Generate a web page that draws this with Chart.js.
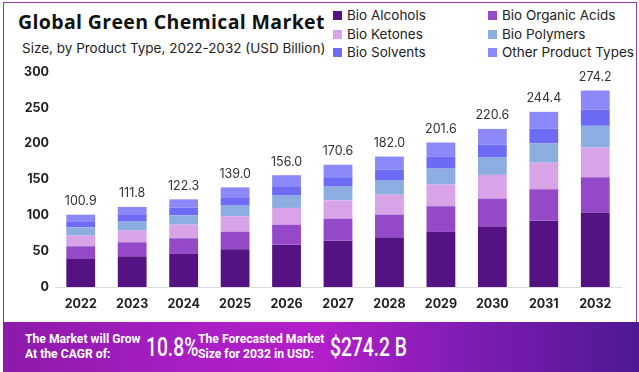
<!DOCTYPE html>
<html>
<head>
<meta charset="utf-8">
<script src="https://cdn.jsdelivr.net/npm/chart.js@4.4.1/dist/chart.umd.min.js"></script>
<style>
  body { margin: 0; width: 639px; height: 372px; overflow: hidden; background: #fff; font-family: Inter, Roboto, sans-serif; position: relative; }
  #frame { position: absolute; left: 3px; top: 2px; width: 632px; height: 319px; border: 1px solid #8b3c9c; border-bottom: none; }
  #title { position: absolute; left: 18px; top: 10px; font-family: "Open Sans", sans-serif; font-size: 19.5px; line-height: 24px; font-weight: 700; letter-spacing: 0.35px; color: #111; white-space: nowrap; }
  #subtitle { position: absolute; left: 22px; top: 40px; font-size: 13.5px; color: #222; white-space: nowrap; }
  #legend { position: absolute; left: 333px; top: 6px; }
  .lg { position: absolute; white-space: nowrap; font-size: 13.5px; color: #222; line-height: 18px; }
  .lg span { display: inline-block; width: 9px; height: 9px; margin-right: 5px; vertical-align: 0px; }
  #box { position: absolute; left: 0; top: 55px; width: 639px; height: 266px; }
  #banner { position: absolute; left: 3px; top: 322px; width: 636px; height: 50px;
    background: linear-gradient(90deg, #8c1aa9 0%, #a91ec4 30%, #b21fca 50%, #7a1cb0 75%, #4e1895 100%); color: #fff; }
  .bt { position: absolute; font-family: Roboto, sans-serif; font-size: 13.5px; font-weight: 700; line-height: 15px; white-space: nowrap; transform: scaleX(0.9); transform-origin: left center; }
  .bn { position: absolute; font-family: Roboto, sans-serif; font-size: 26px; font-weight: 500; line-height: 30px; white-space: nowrap; transform: scaleX(0.74); transform-origin: left center; }
</style>
</head>
<body>
<div id="frame"></div>
<div id="title">Global Green Chemical Market</div>
<div id="subtitle">Size, by Product Type, 2022-2032 (USD Billion)</div>
<div id="legend"></div>
<div id="box"><canvas id="chart"></canvas></div>
<div id="banner">
  <div class="bt" style="left:22px; top:9px;">The Market will Grow<br>At the CAGR of:</div>
  <div class="bn" style="left:143px; top:10px;">10.8%</div>
  <div class="bt" style="left:195px; top:9px;">The Forecasted Market<br>Size for 2032 in USD:</div>
  <div class="bn" style="left:327px; top:10px;">$274.2 B</div>
</div>
<script>
const years = ['2022', '2023', '2024', '2025', '2026', '2027', '2028', '2029', '2030', '2031', '2032'];
const totals = [100.9, 111.8, 122.3, 139.0, 156.0, 170.6, 182.0, 201.6, 220.6, 244.4, 274.2];

const bioAlcohols = [39.1, 42.8, 46.1, 52.6, 59.1, 64.7, 68.9, 76.8, 84.3, 92.6, 103.8];
const bioOrganicAcids = [17.7, 19.6, 21.9, 24.6, 27.9, 30.7, 32.1, 35.9, 39.0, 43.8, 49.4];
const bioKetones = [14.9, 16.3, 19.0, 21.5, 23.3, 25.6, 27.9, 30.2, 33.1, 37.2, 41.4];
const bioPolymers = [11.6, 12.5, 13.1, 14.8, 17.2, 19.1, 19.6, 22.3, 24.2, 27.1, 30.3];
const bioSolvents = [7.5, 10.3, 10.7, 11.7, 13.1, 13.1, 15.3, 16.4, 18.1, 20.4, 22.8];
const otherTypes = [10.1, 10.3, 11.5, 13.8, 15.4, 17.4, 18.2, 20.0, 21.9, 23.3, 26.5];

const yTicks = [0, 50, 100, 150, 200, 250, 300];

const series = [
    { label: 'Bio Alcohols', data: bioAlcohols, color: '#541283' },
    { label: 'Bio Organic Acids', data: bioOrganicAcids, color: '#9449c9' },
    { label: 'Bio Ketones', data: bioKetones, color: '#d9a4e7' },
    { label: 'Bio Polymers', data: bioPolymers, color: '#8badE0' },
    { label: 'Bio Solvents', data: bioSolvents, color: '#6d6bf4' },
    { label: 'Other Product Types', data: otherTypes, color: '#8b89f7' }
];

// legend, two columns
const legendEl = document.getElementById('legend');
series.forEach((s, i) => {
    const div = document.createElement('div');
    div.className = 'lg';
    div.style.left = (i % 2 === 0 ? 0 : 155) + 'px';
    div.style.top = (Math.floor(i / 2) * 18.5) + 'px';
    div.innerHTML = `<span style="background:${s.color}"></span>${s.label}`;
    legendEl.appendChild(div);
});

const totalLabels = {
    id: 'totalLabels',
    afterDatasetsDraw(chart) {
        const ctx = chart.ctx;
        const last = chart.getDatasetMeta(chart.data.datasets.length - 1);
        ctx.save();
        ctx.font = '12.5px Inter, Roboto, sans-serif';
        ctx.fillStyle = '#333';
        ctx.textAlign = 'center';
        ctx.textBaseline = 'bottom';
        last.data.forEach((bar, i) => {
            ctx.fillText(totals[i].toFixed(1), bar.x, bar.y - 7);
        });
        ctx.restore();
    }
};

new Chart(document.getElementById('chart'), {
    type: 'bar',
    data: {
        labels: years,
        datasets: series.map(s => ({
            label: s.label,
            data: s.data,
            backgroundColor: s.color,
            borderWidth: 0,
            barPercentage: 0.56,
            categoryPercentage: 1.0
        }))
    },
    options: {
        responsive: true,
        maintainAspectRatio: false,
        animation: false,
        layout: { padding: { left: 0, right: 18, top: 17, bottom: 0 } },
        plugins: {
            legend: { display: false },
            tooltip: { enabled: false }
        },
        scales: {
            x: {
                stacked: true,
                grid: { display: false, drawTicks: false },
                border: { display: true, color: '#dcdcdc', width: 1 },
                ticks: { color: '#222', font: { size: 12.5, weight: 'bold', family: 'Inter, Roboto, sans-serif' }, padding: 10 },
                afterFit(scale) { scale.height = 34; }
            },
            y: {
                stacked: true,
                min: 0,
                max: 300,
                afterBuildTicks(scale) { scale.ticks = yTicks.map(v => ({ value: v })); },
                grid: { display: false, drawTicks: false },
                border: { display: false },
                ticks: { color: '#222', font: { size: 12.5, weight: 'bold', family: 'Inter, Roboto, sans-serif' }, padding: 6 },
                afterFit(scale) { scale.width = 55; }
            }
        }
    },
    plugins: [totalLabels]
});
</script>
</body>
</html>
